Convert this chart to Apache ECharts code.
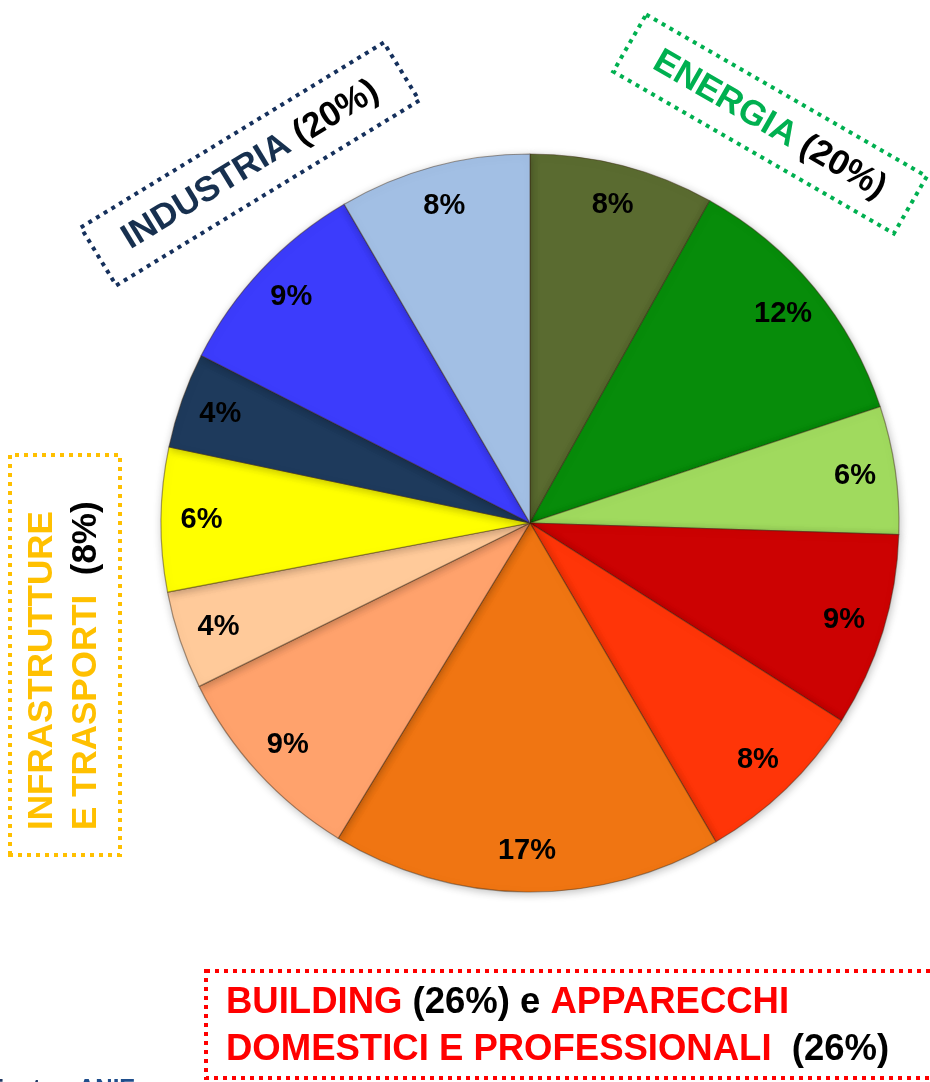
<!DOCTYPE html>
<html>
<head>
<meta charset="utf-8">
<script src="https://cdn.jsdelivr.net/npm/echarts@6/dist/echarts.min.js"></script>
<style>
html,body{margin:0;padding:0;background:#fff;}
#chart{width:930px;height:1082px;}
</style>
</head>
<body>
<div id="chart"></div>
<script>
// Slices clockwise from 12 o'clock (shares; labels as printed)
const sliceNames = ['Energia 1','Energia 2','Energia 3','Building 1','Building 2','Apparecchi 1','Apparecchi 2','Infrastrutture 1','Infrastrutture 2','Industria 1','Industria 2','Industria 3'];
const sliceValues = [8.1, 11.8, 5.6, 8.5, 7.6, 17.1, 9.0, 4.3, 6.3, 4.2, 9.1, 8.4];
const sliceLabels = ['8%','12%','6%','9%','8%','17%','9%','4%','6%','4%','9%','8%'];
const sliceColors = ['#5a6b30','#078c0a','#a0da5e','#cc0202','#ff3508','#f07512','#ffa26c','#ffca9a','#ffff00','#1e3a5c','#3c3cfc','#a2bfe4'];

const FONT = '"Liberation Sans", Arial, sans-serif';
const NB = '\u00a0';

const chart = echarts.init(document.getElementById('chart'), null, {renderer: 'canvas'});

const baseData = sliceValues.map((v, i) => ({
  name: sliceNames[i], value: v,
  itemStyle: {color: sliceColors[i]}
}));
const labelData = sliceValues.map((v, i) => ({name: sliceNames[i], value: v, label: {formatter: sliceLabels[i]}}));

function groupBox(pos, rot, w, h, stroke, children) {
  return {
    type: 'group', x: pos[0], y: pos[1], rotation: rot,
    children: [{
      type: 'rect',
      shape: {x: -w / 2, y: -h / 2, width: w, height: h},
      style: {fill: 'rgba(0,0,0,0)', stroke: stroke, lineWidth: 4, lineDash: [4, 5]}
    }].concat(children)
  };
}

const deg = Math.PI / 180;

chart.setOption({
  animation: false,
  backgroundColor: '#ffffff',
  series: [
    {
      type: 'pie',
      center: [530, 523],
      radius: [0, 369],
      startAngle: 90,
      clockwise: true,
      silent: true,
      label: {show: false},
      labelLine: {show: false},
      itemStyle: {
        borderColor: 'rgba(60,40,20,0.45)', borderWidth: 1.2,
        shadowBlur: 8, shadowColor: 'rgba(0,0,0,0.25)', shadowOffsetX: 1, shadowOffsetY: 2
      },
      data: baseData
    },
    {
      type: 'pie',
      center: [530, 523],
      radius: [282, 369],
      startAngle: 90,
      clockwise: true,
      silent: true,
      avoidLabelOverlap: false,
      itemStyle: {color: 'rgba(0,0,0,0)', borderWidth: 0},
      label: {
        show: true, position: 'inside',
        color: '#000', fontFamily: FONT, fontWeight: 'bold', fontSize: 29
      },
      labelLine: {show: false},
      data: labelData
    }
  ],
  graphic: [
    groupBox([250, 164], 31.4 * deg, 355, 68, '#15305c', [{
      type: 'text',
      style: {
        x: 0, y: 1, align: 'center', verticalAlign: 'middle',
        text: '{a|INDUSTRIA' + NB + '}{b|(20%)}',
        rich: {
          a: {fill: '#17304f', fontFamily: FONT, fontWeight: 'bold', fontSize: 35},
          b: {fill: '#000', fontFamily: FONT, fontWeight: 'bold', fontSize: 35}
        }
      }
    }]),
    groupBox([770, 124], -30 * deg, 324, 66, '#00b050', [{
      type: 'text',
      style: {
        x: 0, y: 1, align: 'center', verticalAlign: 'middle',
        text: '{a|ENERGIA' + NB + '}{b|(20%)}',
        rich: {
          a: {fill: '#00b050', fontFamily: FONT, fontWeight: 'bold', fontSize: 35},
          b: {fill: '#000', fontFamily: FONT, fontWeight: 'bold', fontSize: 35}
        }
      }
    }]),
    groupBox([65, 655], 90 * deg, 400, 110, '#ffc000', [{
      type: 'text',
      style: {
        x: -175, y: -23, align: 'left', verticalAlign: 'middle',
        text: 'INFRASTRUTTURE',
        fill: '#ffc000', fontFamily: FONT, fontWeight: 'bold', fontSize: 35
      }
    }, {
      type: 'text',
      style: {
        x: -175, y: 21, align: 'left', verticalAlign: 'middle',
        text: '{a|E TRASPORTI' + NB + NB + '}{b|(8%)}',
        rich: {
          a: {fill: '#ffc000', fontFamily: FONT, fontWeight: 'bold', fontSize: 35},
          b: {fill: '#000', fontFamily: FONT, fontWeight: 'bold', fontSize: 35}
        }
      }
    }]),
    {
      type: 'rect',
      shape: {x: 206, y: 971, width: 740, height: 107},
      style: {fill: 'rgba(0,0,0,0)', stroke: '#ff0000', lineWidth: 4, lineDash: [4, 5]}
    },
    {
      type: 'text',
      style: {
        x: 226, y: 1003, align: 'left', verticalAlign: 'middle',
        text: '{r|BUILDING' + NB + '}{k|(26%)' + NB + 'e' + NB + '}{r|APPARECCHI}',
        rich: {
          r: {fill: '#ff0000', fontFamily: FONT, fontWeight: 'bold', fontSize: 36.5},
          k: {fill: '#000', fontFamily: FONT, fontWeight: 'bold', fontSize: 36.5}
        }
      }
    },
    {
      type: 'text',
      style: {
        x: 226, y: 1050, align: 'left', verticalAlign: 'middle',
        text: '{r|DOMESTICI E PROFESSIONALI' + NB + NB + '}{k|(26%)}',
        rich: {
          r: {fill: '#ff0000', fontFamily: FONT, fontWeight: 'bold', fontSize: 36.5},
          k: {fill: '#000', fontFamily: FONT, fontWeight: 'bold', fontSize: 36.5}
        }
      }
    },
    {
      type: 'text',
      style: {
        x: 62, y: 1077, align: 'right', verticalAlign: 'top',
        text: 'Fonte:', fill: '#1f3864', fontFamily: FONT, fontWeight: 'bold', fontSize: 24
      }
    },
    {
      type: 'text',
      style: {
        x: 78, y: 1077, align: 'left', verticalAlign: 'top',
        text: 'ANIE', fill: '#1f4e8c', fontFamily: FONT, fontWeight: 'bold', fontSize: 24
      }
    }
  ]
});
</script>
</body>
</html>
